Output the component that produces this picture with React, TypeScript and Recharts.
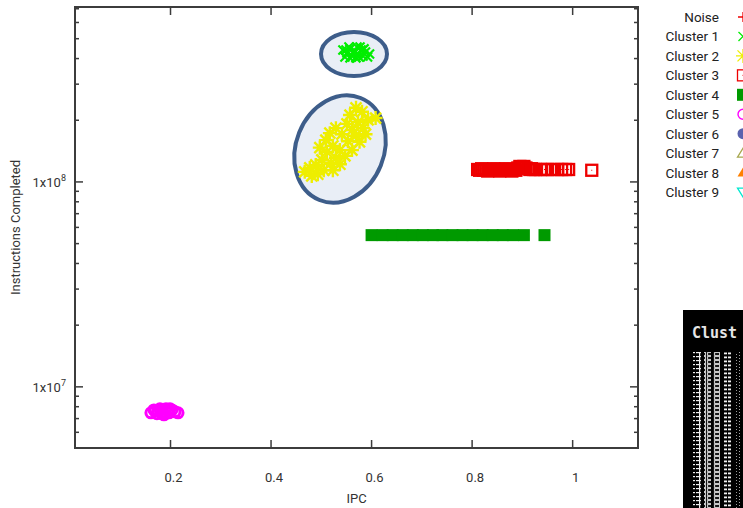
import { ReferenceArea, Scatter, ScatterChart, XAxis, YAxis } from "recharts";

type Pt = { x: number; y: number };

// series
const seriesNames = [
	"Noise",
	"Cluster 1",
	"Cluster 2",
	"Cluster 3",
	"Cluster 4",
	"Cluster 5",
	"Cluster 6",
	"Cluster 7",
	"Cluster 8",
	"Cluster 9",
];
const seriesColors = [
	"#ee0000",
	"#00ee00",
	"#eeee00",
	"#ee0000",
	"#009a00",
	"#ff00ff",
	"#5a62ae",
	"#a8a850",
	"#ff8000",
	"#00e8d0",
];
const seriesGlyphs = [
	"plus",
	"cross",
	"star",
	"square",
	"squareFill",
	"circle",
	"circleFill",
	"triangle",
	"triangleFill",
	"triangleDown",
];

const xTicks = [0.2, 0.4, 0.6, 0.8, 1];
const yMajor = [1e7, 1e8];
const yTicks = [
	6e6, 7e6, 8e6, 9e6, 1e7, 2e7, 3e7, 4e7, 5e7, 6e7, 7e7, 8e7, 9e7, 1e8, 2e8,
	3e8, 4e8, 5e8, 6e8, 7e8,
];

const noise: Pt[] = [];
const cluster1: Pt[] = [
	{ x: 0.543, y: 4.4e8 },
	{ x: 0.549, y: 4.4e8 },
	{ x: 0.551, y: 4.26e8 },
	{ x: 0.557, y: 4.46e8 },
	{ x: 0.557, y: 4.03e8 },
	{ x: 0.561, y: 4.12e8 },
	{ x: 0.563, y: 4.26e8 },
	{ x: 0.567, y: 4.35e8 },
	{ x: 0.571, y: 4.56e8 },
	{ x: 0.573, y: 4.21e8 },
	{ x: 0.575, y: 4.07e8 },
	{ x: 0.579, y: 4.4e8 },
	{ x: 0.583, y: 4.12e8 },
	{ x: 0.585, y: 4.46e8 },
	{ x: 0.588, y: 4.31e8 },
	{ x: 0.592, y: 4.07e8 },
	{ x: 0.596, y: 4.21e8 },
	{ x: 0.547, y: 4.07e8 },
	{ x: 0.569, y: 4.03e8 },
	{ x: 0.555, y: 4.56e8 },
	{ x: 0.577, y: 4.56e8 },
];
const cluster2: Pt[] = [
	{ x: 0.569, y: 2.3e8 },
	{ x: 0.581, y: 2.2e8 },
	{ x: 0.557, y: 2.12e8 },
	{ x: 0.593, y: 2.01e8 },
	{ x: 0.608, y: 2.05e8 },
	{ x: 0.573, y: 1.96e8 },
	{ x: 0.551, y: 1.92e8 },
	{ x: 0.561, y: 1.79e8 },
	{ x: 0.583, y: 1.83e8 },
	{ x: 0.529, y: 1.83e8 },
	{ x: 0.517, y: 1.73e8 },
	{ x: 0.541, y: 1.71e8 },
	{ x: 0.569, y: 1.68e8 },
	{ x: 0.588, y: 1.71e8 },
	{ x: 0.509, y: 1.6e8 },
	{ x: 0.553, y: 1.58e8 },
	{ x: 0.576, y: 1.57e8 },
	{ x: 0.523, y: 1.5e8 },
	{ x: 0.497, y: 1.47e8 },
	{ x: 0.537, y: 1.43e8 },
	{ x: 0.561, y: 1.43e8 },
	{ x: 0.511, y: 1.4e8 },
	{ x: 0.547, y: 1.34e8 },
	{ x: 0.529, y: 1.31e8 },
	{ x: 0.501, y: 1.28e8 },
	{ x: 0.519, y: 1.24e8 },
	{ x: 0.489, y: 1.21e8 },
	{ x: 0.537, y: 1.22e8 },
	{ x: 0.477, y: 1.17e8 },
	{ x: 0.505, y: 1.14e8 },
	{ x: 0.467, y: 1.12e8 },
	{ x: 0.493, y: 1.09e8 },
	{ x: 0.523, y: 1.14e8 },
	{ x: 0.481, y: 1.07e8 },
];
const cluster3: Pt[] = [
	{ x: 0.811, y: 1.15e8 },
	{ x: 0.815, y: 1.14e8 },
	{ x: 0.819, y: 1.16e8 },
	{ x: 0.823, y: 1.14e8 },
	{ x: 0.827, y: 1.15e8 },
	{ x: 0.831, y: 1.13e8 },
	{ x: 0.835, y: 1.15e8 },
	{ x: 0.839, y: 1.14e8 },
	{ x: 0.843, y: 1.16e8 },
	{ x: 0.847, y: 1.14e8 },
	{ x: 0.851, y: 1.15e8 },
	{ x: 0.855, y: 1.13e8 },
	{ x: 0.859, y: 1.15e8 },
	{ x: 0.863, y: 1.14e8 },
	{ x: 0.867, y: 1.16e8 },
	{ x: 0.871, y: 1.14e8 },
	{ x: 0.875, y: 1.15e8 },
	{ x: 0.879, y: 1.13e8 },
	{ x: 0.883, y: 1.15e8 },
	{ x: 0.887, y: 1.14e8 },
	{ x: 0.891, y: 1.17e8 },
	{ x: 0.895, y: 1.19e8 },
	{ x: 0.899, y: 1.18e8 },
	{ x: 0.903, y: 1.19e8 },
	{ x: 0.907, y: 1.17e8 },
	{ x: 0.911, y: 1.16e8 },
	{ x: 0.915, y: 1.15e8 },
	{ x: 0.918, y: 1.16e8 },
	{ x: 0.922, y: 1.15e8 },
	{ x: 0.926, y: 1.15e8 },
	{ x: 0.936, y: 1.15e8 },
	{ x: 0.944, y: 1.15e8 },
	{ x: 0.95, y: 1.15e8 },
	{ x: 0.96, y: 1.15e8 },
	{ x: 0.97, y: 1.15e8 },
	{ x: 0.978, y: 1.15e8 },
	{ x: 0.986, y: 1.15e8 },
	{ x: 0.992, y: 1.15e8 },
	{ x: 1.038, y: 1.14e8 },
];
const cluster4: Pt[] = [
	{ x: 0.6, y: 5.5e7 },
	{ x: 0.622, y: 5.5e7 },
	{ x: 0.642, y: 5.5e7 },
	{ x: 0.662, y: 5.5e7 },
	{ x: 0.682, y: 5.5e7 },
	{ x: 0.702, y: 5.5e7 },
	{ x: 0.722, y: 5.5e7 },
	{ x: 0.741, y: 5.5e7 },
	{ x: 0.761, y: 5.5e7 },
	{ x: 0.781, y: 5.5e7 },
	{ x: 0.801, y: 5.5e7 },
	{ x: 0.821, y: 5.5e7 },
	{ x: 0.841, y: 5.5e7 },
	{ x: 0.861, y: 5.5e7 },
	{ x: 0.881, y: 5.5e7 },
	{ x: 0.903, y: 5.5e7 },
	{ x: 0.944, y: 5.5e7 },
];
const cluster5: Pt[] = [
	{ x: 0.161, y: 7.47e6 },
	{ x: 0.167, y: 7.72e6 },
	{ x: 0.169, y: 7.64e6 },
	{ x: 0.173, y: 7.39e6 },
	{ x: 0.175, y: 7.64e6 },
	{ x: 0.179, y: 7.81e6 },
	{ x: 0.183, y: 7.39e6 },
	{ x: 0.185, y: 7.55e6 },
	{ x: 0.187, y: 7.3e6 },
	{ x: 0.191, y: 7.81e6 },
	{ x: 0.195, y: 7.64e6 },
	{ x: 0.197, y: 7.47e6 },
	{ x: 0.199, y: 7.81e6 },
	{ x: 0.203, y: 7.72e6 },
	{ x: 0.209, y: 7.55e6 },
	{ x: 0.215, y: 7.47e6 },
];
const cluster6: Pt[] = [];
const cluster7: Pt[] = [];
const cluster8: Pt[] = [];
const cluster9: Pt[] = [];

const seriesData = [
	noise,
	cluster1,
	cluster2,
	cluster3,
	cluster4,
	cluster5,
	cluster6,
	cluster7,
	cluster8,
	cluster9,
];

const W = 743;
const H = 508;
const PLOT_LEFT = 75;
const PLOT_RIGHT = 638;
const PLOT_TOP = 7;
const FRAME = "#3c3c3c";
const TEXT = "#333";
const FONT = "Roboto, sans-serif";

function Glyph({
	kind,
	cx,
	cy,
	color,
	bold = true,
}: {
	kind: string;
	cx: number;
	cy: number;
	color: string;
	bold?: boolean;
}) {
	switch (kind) {
		case "plus":
			return (
				<path
					d={`M${cx - 5},${cy}h10M${cx},${cy - 5}v10`}
					stroke={color}
					strokeWidth={1.3}
					fill="none"
				/>
			);
		case "cross":
			return (
				<path
					d={`M${cx - 4.5},${cy - 4.5}l9,9M${cx - 4.5},${cy + 4.5}l9,-9`}
					stroke={color}
					strokeWidth={bold ? 2.2 : 1.3}
					fill="none"
				/>
			);
		case "star":
			return (
				<path
					d={`M${cx - 7},${cy}h14M${cx},${cy - 7}v14M${cx - 5.5},${cy - 5.5}l11,11M${cx - 5.5},${cy + 5.5}l11,-11`}
					stroke={color}
					strokeWidth={bold ? 2.4 : 1.3}
					fill="none"
				/>
			);
		case "square":
			return (
				<g>
					<rect
						x={cx - 5.5}
						y={cy - 5.5}
						width={11}
						height={11}
						fill="none"
						stroke={color}
						strokeWidth={bold ? 2.3 : 1.3}
					/>
					<rect x={cx - 0.5} y={cy - 0.5} width={1} height={1} fill={color} />
				</g>
			);
		case "squareFill":
			return <rect x={cx - 6} y={cy - 6} width={12} height={12} fill={color} />;
		case "circle":
			return (
				<circle
					cx={cx}
					cy={cy}
					r={5}
					fill="none"
					stroke={color}
					strokeWidth={bold ? 3 : 1.4}
				/>
			);
		case "circleFill":
			return <circle cx={cx} cy={cy} r={5.5} fill={color} />;
		case "triangle":
			return (
				<path
					d={`M${cx},${cy - 5}L${cx + 5.5},${cy + 4}L${cx - 5.5},${cy + 4}Z`}
					fill="none"
					stroke={color}
					strokeWidth={1.3}
				/>
			);
		case "triangleFill":
			return (
				<path
					d={`M${cx},${cy - 5}L${cx + 5.5},${cy + 4}L${cx - 5.5},${cy + 4}Z`}
					fill={color}
				/>
			);
		default:
			return (
				<path
					d={`M${cx},${cy + 5}L${cx + 5.5},${cy - 4}L${cx - 5.5},${cy - 4}Z`}
					fill="none"
					stroke={color}
					strokeWidth={1.3}
				/>
			);
	}
}

const XTick = (props: any) => {
	const { x, y, payload } = props;
	return (
		<g>
			<line x1={x} x2={x} y1={y} y2={y - 8} stroke={FRAME} strokeWidth={1.5} />
			<line
				x1={x}
				x2={x}
				y1={PLOT_TOP}
				y2={PLOT_TOP + 8}
				stroke={FRAME}
				strokeWidth={1.5}
			/>
			<text
				x={x + 3}
				y={482}
				textAnchor="middle"
				fontSize={13}
				fontFamily={FONT}
				fill={TEXT}
			>
				{String(payload.value)}
			</text>
		</g>
	);
};

const YTick = (props: any) => {
	const { x, y, payload } = props;
	const v = payload.value;
	const major = yMajor.includes(v);
	const len = major ? 8 : 4;
	return (
		<g>
			<line x1={x} x2={x + len} y1={y} y2={y} stroke={FRAME} strokeWidth={1.5} />
			<line
				x1={PLOT_RIGHT - len}
				x2={PLOT_RIGHT}
				y1={y}
				y2={y}
				stroke={FRAME}
				strokeWidth={1.5}
			/>
			{major && (
				<text
					x={66}
					y={y + 5}
					textAnchor="end"
					fontSize={13}
					fontFamily={FONT}
					fill={TEXT}
				>
					1x10
					<tspan dy={-6} fontSize={9}>
						{Math.round(Math.log10(v))}
					</tspan>
				</text>
			)}
		</g>
	);
};

export default function App() {
	return (
		<div
			style={{
				position: "absolute",
				left: 0,
				top: 0,
				width: W,
				height: H,
				background: "#fff",
				overflow: "hidden",
			}}
		>
			{/* highlight ellipses, drawn under the points */}
			<svg
				width={W}
				height={H}
				style={{ position: "absolute", left: 0, top: 0 }}
			>
				<ellipse
					cx={354}
					cy={54}
					rx={33}
					ry={22}
					fill="#e9eef6"
					stroke="#3d5d8a"
					strokeWidth={4}
				/>
				<ellipse
					cx={340}
					cy={149}
					rx={44}
					ry={55}
					transform="rotate(22 340 149)"
					fill="#e9eef6"
					stroke="#3d5d8a"
					strokeWidth={4}
				/>
			</svg>
			<div style={{ position: "absolute", left: 0, top: 0 }}>
				<ScatterChart
					width={W}
					height={H}
					margin={{ top: PLOT_TOP, right: W - PLOT_RIGHT, bottom: 0, left: 0 }}
				>
					<XAxis
						type="number"
						dataKey="x"
						domain={[0.01, 1.13]}
						allowDataOverflow
						ticks={xTicks}
						interval={0}
						height={60}
						tickSize={0}
						tickMargin={0}
						axisLine={false}
						tickLine={false}
						tick={<XTick />}
						label={{
							value: "IPC",
							position: "insideBottom",
							offset: 5,
							fill: TEXT,
							fontSize: 13,
							fontFamily: FONT,
						}}
					/>
					<YAxis
						type="number"
						dataKey="y"
						scale="log"
						domain={[5.03e6, 7.14e8]}
						allowDataOverflow
						ticks={yTicks}
						interval={0}
						width={PLOT_LEFT}
						tickSize={0}
						tickMargin={0}
						axisLine={false}
						tickLine={false}
						tick={<YTick />}
						label={{
							value: "Instructions Completed",
							angle: -90,
							position: "insideLeft",
							offset: 15,
							fill: TEXT,
							fontSize: 13,
							fontFamily: FONT,
							style: { textAnchor: "middle" },
						}}
					/>
					<ReferenceArea
						x1={0.01}
						x2={1.13}
						y1={5.03e6}
						y2={7.14e8}
						fill="none"
						stroke={FRAME}
						strokeWidth={2}
					/>
					{seriesNames.map((name, i) => (
						<Scatter
							key={name}
							name={name}
							data={seriesData[i]}
							isAnimationActive={false}
							shape={(p: any) => (
								<Glyph
									kind={seriesGlyphs[i]}
									cx={p.cx}
									cy={p.cy}
									color={seriesColors[i]}
								/>
							)}
						/>
					))}
				</ScatterChart>
			</div>
			{/* legend and the cropped terminal screenshot */}
			<svg
				width={W}
				height={H}
				style={{ position: "absolute", left: 0, top: 0, pointerEvents: "none" }}
			>
				<defs>
					<pattern id="t1" width="8" height="4" patternUnits="userSpaceOnUse">
						<rect x="0" y="0" width="7" height="1.2" fill="#eee" />
						<rect x="3" y="0" width="1.2" height="4" fill="#eee" />
					</pattern>
					<pattern id="t2" width="7" height="4" patternUnits="userSpaceOnUse">
						<rect
							x="0.6"
							y="0.6"
							width="5"
							height="2.8"
							fill="none"
							stroke="#ddd"
							strokeWidth="1"
						/>
					</pattern>
					<pattern id="t4" width="7" height="4" patternUnits="userSpaceOnUse">
						<rect x="0" y="0.5" width="6" height="1.8" fill="#f2f2f2" />
					</pattern>
					<pattern id="t5" width="7" height="3" patternUnits="userSpaceOnUse">
						<rect x="1" y="0" width="1" height="1" fill="#999" />
						<rect x="4" y="1" width="1" height="1" fill="#aaa" />
					</pattern>
				</defs>
				{seriesNames.map((name, i) => {
					const cy = 17 + i * 19.45;
					return (
						<g key={name}>
							<text
								x={719}
								y={cy + 5}
								textAnchor="end"
								fontSize={13.5}
								fontFamily={FONT}
								fill="#222"
							>
								{name}
							</text>
							<Glyph
								kind={seriesGlyphs[i]}
								cx={743}
								cy={cy}
								color={seriesColors[i]}
								bold={false}
							/>
						</g>
					);
				})}
				<rect x={683} y={310} width={60} height={198} fill="#000" />
				<text
					x={692}
					y={338}
					fontSize={15}
					fontWeight="bold"
					fontFamily="'DejaVu Sans Mono', monospace"
					fill="#e6e6e6"
				>
					Clust
				</text>
				<rect x={693} y={352} width={8} height={156} fill="url(#t1)" />
				<rect x={704} y={352} width={7} height={156} fill="url(#t2)" />
				<rect x={713} y={352} width={7} height={156} fill="url(#t2)" />
				<rect x={724} y={352} width={7} height={156} fill="url(#t4)" />
				<rect x={735} y={352} width={7} height={156} fill="url(#t5)" />
			</svg>
		</div>
	);
}
